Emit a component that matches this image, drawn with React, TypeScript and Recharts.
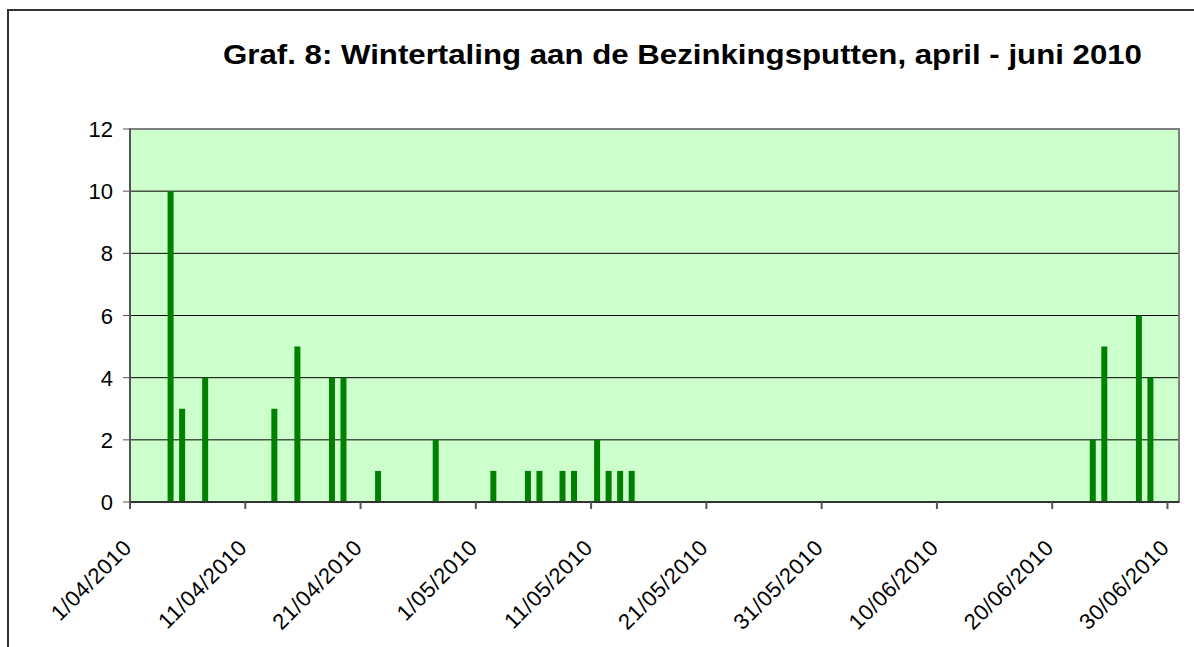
import { BarChart, Bar, XAxis, YAxis, CartesianGrid, ReferenceArea } from 'recharts'

const title = 'Graf. 8: Wintertaling aan de Bezinkingsputten, april - juni 2010'

// counting dates and number of birds
const dates = [
  '4/04/2010', '5/04/2010', '7/04/2010', '13/04/2010', '15/04/2010', '18/04/2010',
  '19/04/2010', '22/04/2010', '27/04/2010', '2/05/2010', '5/05/2010', '6/05/2010',
  '8/05/2010', '9/05/2010', '11/05/2010', '12/05/2010', '13/05/2010', '14/05/2010',
  '23/06/2010', '24/06/2010', '27/06/2010', '28/06/2010',
]
const counts = [10, 3, 4, 3, 5, 4, 4, 1, 2, 1, 1, 1, 1, 1, 2, 1, 1, 1, 2, 5, 6, 4]

const tickLabels = [
  '1/04/2010', '11/04/2010', '21/04/2010', '1/05/2010', '11/05/2010', '21/05/2010',
  '31/05/2010', '10/06/2010', '20/06/2010', '30/06/2010',
]
const yTicks = [0, 2, 4, 6, 8, 10, 12]

const startDate = '1/04/2010'
const endDate = '1/07/2010'

function toDay(s: string) {
  const [d, m, y] = s.split('/').map(Number)
  return Date.UTC(y, m - 1, d) / 86400000
}
const day0 = toDay(startDate)
const dayIndex = (s: string) => toDay(s) - day0

const data = dates.map((d, i) => ({ date: d, x: dayIndex(d) + 0.5, aantal: counts[i] }))
const xTicks = tickLabels.map(dayIndex)
const labelOf = (v: number) => tickLabels[xTicks.indexOf(v)] ?? ''

const font = '"Liberation Sans", Arial, sans-serif'

function DateTick(props: any) {
  const { x, y, payload } = props
  const ax = x + 3
  const ay = y + 38
  return (
    <text
      x={ax}
      y={ay}
      transform={`rotate(-45, ${ax}, ${ay})`}
      textAnchor="end"
      fontSize={22}
      letterSpacing={0.6}
      fontFamily={font}
      fill="#000"
    >
      {labelOf(payload.value)}
    </text>
  )
}

function CountTick(props: any) {
  const { x, y, payload } = props
  return (
    <text x={x - 2} y={y + 8} textAnchor="end" fontSize={22} fontFamily={font} fill="#000">
      {payload.value}
    </text>
  )
}

export default function App() {
  return (
    <div style={{ position: 'absolute', left: 0, top: 0, width: 1194, height: 647, background: '#fff', overflow: 'hidden' }}>
      <div
        style={{
          position: 'absolute', left: 7, top: 9, width: 1200, height: 700,
          borderLeft: '2px solid #333', borderTop: '2px solid #333',
        }}
      />
      <svg style={{ position: 'absolute', left: 0, top: 0 }} width={1194} height={100}>
        <text
          x={223}
          y={64}
          fontSize={27}
          fontWeight="bold"
          fontFamily={font}
          textLength={919}
          lengthAdjust="spacingAndGlyphs"
          fill="#000"
        >
          {title}
        </text>
      </svg>
      <div style={{ position: 'absolute', left: 0, top: 0 }}>
        <BarChart width={1194} height={647} data={data} margin={{ top: 129, right: 15, bottom: 0, left: 70 }}>
          <CartesianGrid fill="#CCFFCC" stroke="#000" vertical={false} horizontalValues={yTicks} />
          <ReferenceArea x1={0} x2={91} y1={0} y2={12} fill="none" stroke="#808080" strokeWidth={2} ifOverflow="visible" />
          <XAxis
            dataKey="x"
            type="number"
            domain={[0, 91]}
            ticks={xTicks}
            interval={0}
            height={145}
            tick={<DateTick />}
            tickSize={7}
            axisLine={{ stroke: '#333', strokeWidth: 2 }}
            tickLine={{ stroke: '#555', strokeWidth: 2 }}
          />
          <YAxis
            domain={[0, 12]}
            ticks={yTicks}
            interval={0}
            width={60}
            tickSize={7}
            tickMargin={8}
            axisLine={{ stroke: '#555', strokeWidth: 2 }}
            tickLine={{ stroke: '#555', strokeWidth: 1 }}
            tick={<CountTick />}
          />
          <Bar dataKey="aantal" fill="#008000" barSize={6} isAnimationActive={false} />
        </BarChart>
      </div>
    </div>
  )
}
